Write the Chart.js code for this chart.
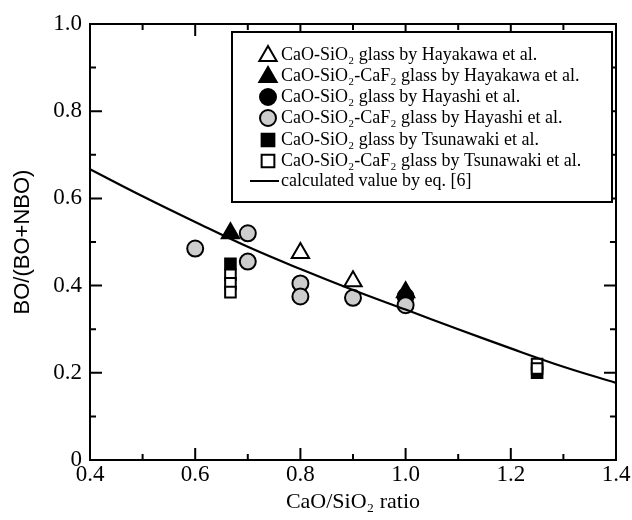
<!DOCTYPE html>
<html>
<head>
<meta charset="utf-8">
<script src="https://cdn.jsdelivr.net/npm/chart.js@4.4.0/dist/chart.umd.min.js"></script>
<style>
  html, body { margin: 0; padding: 0; background: #fff; }
  #wrap { width: 632px; height: 520px; }
</style>
</head>
<body>
<div id="wrap"><canvas id="boChart"></canvas></div>
<script>
// tick labels
const xTicks = [0.4, 0.6, 0.8, 1.0, 1.2, 1.4];
const yTicks = [0, 0.2, 0.4, 0.6, 0.8, 1.0];

// measured points
const hayakawaX = [0.8, 0.9];
const hayakawaY = [0.475, 0.41];
const hayakawaF2X = [0.667, 1.0];
const hayakawaF2Y = [0.52, 0.385];
const hayashiX = [1.0];
const hayashiY = [0.375];
const hayashiF2X = [0.6, 0.7, 0.7, 0.8, 0.8, 0.9, 1.0];
const hayashiF2Y = [0.485, 0.52, 0.455, 0.405, 0.375, 0.372, 0.355];
const tsunawakiX = [0.667, 1.25];
const tsunawakiY = [0.45, 0.2];
const tsunawakiF2X = [0.667, 0.667, 0.667, 1.25, 1.25];
const tsunawakiF2Y = [0.425, 0.405, 0.385, 0.22, 0.21];

// calculated curve, eq. [6]
const calcX = [0.4, 0.5, 0.6, 0.7, 0.8, 0.9, 1.0, 1.1, 1.2, 1.3, 1.4];
const calcY = [0.667, 0.605, 0.546, 0.489, 0.438, 0.39, 0.345, 0.3, 0.256, 0.214, 0.177];

const labels = [
  'CaO-SiO\u2082 glass by Hayakawa et al.',
  'CaO-SiO\u2082-CaF\u2082 glass by Hayakawa et al.',
  'CaO-SiO\u2082 glass by Hayashi et al.',
  'CaO-SiO\u2082-CaF\u2082 glass by Hayashi et al.',
  'CaO-SiO\u2082 glass by Tsunawaki et al.',
  'CaO-SiO\u2082-CaF\u2082 glass by Tsunawaki et al.',
  'calculated value by eq. [6]'
];

const zip = (xs, ys) => xs.map((x, i) => ({ x: x, y: ys[i] }));
const GRAY = '#cdcdcd';

function marker(ctx, style, fill, x, y, r) {
  ctx.save();
  ctx.fillStyle = fill;
  ctx.strokeStyle = '#000';
  ctx.lineWidth = 2;
  ctx.beginPath();
  if (style === 'circle') {
    ctx.arc(x, y, r, 0, Math.PI * 2);
  } else if (style === 'triangle') {
    ctx.moveTo(x, y - r);
    ctx.lineTo(x + r * 0.866, y + r * 0.5);
    ctx.lineTo(x - r * 0.866, y + r * 0.5);
    ctx.closePath();
  } else if (style === 'rect') {
    const s = r * Math.SQRT1_2;
    ctx.rect(x - s, y - s, 2 * s, 2 * s);
  }
  ctx.fill();
  ctx.stroke();
  ctx.restore();
}

const framePlugin = {
  id: 'frame',
  afterDraw(chart) {
    const ctx = chart.ctx;
    const a = chart.chartArea;
    const xs = chart.scales.x;
    const ys = chart.scales.y;
    ctx.save();
    ctx.strokeStyle = '#000';
    ctx.lineWidth = 2;
    ctx.strokeRect(a.left, a.top, a.right - a.left, a.bottom - a.top);
    // inside ticks on all four sides
    ctx.beginPath();
    for (let i = 0; i <= 10; i++) {
      const len = i % 2 === 0 ? 12 : 6;
      const px = xs.getPixelForValue(0.4 + i * 0.1);
      ctx.moveTo(px, a.bottom); ctx.lineTo(px, a.bottom - len);
      ctx.moveTo(px, a.top); ctx.lineTo(px, a.top + len);
      const py = ys.getPixelForValue(i * 0.1);
      ctx.moveTo(a.left, py); ctx.lineTo(a.left + len, py);
      ctx.moveTo(a.right, py); ctx.lineTo(a.right - len, py);
    }
    ctx.stroke();

    // legend box
    const bx = 232, by = 32, bw = 380, bh = 170;
    ctx.fillStyle = '#fff';
    ctx.fillRect(bx, by, bw, bh);
    ctx.strokeRect(bx, by, bw, bh);
    const rows = [55, 76, 97, 118, 140, 161, 181];
    ctx.font = '18px "Liberation Serif", "DejaVu Serif", serif';
    ctx.textBaseline = 'middle';
    ctx.fillStyle = '#000';
    chart.data.datasets.forEach((ds, i) => {
      const y = rows[i];
      if (ds.showLine) {
        ctx.beginPath();
        ctx.moveTo(250, y); ctx.lineTo(279, y);
        ctx.lineWidth = 2;
        ctx.stroke();
      } else {
        marker(ctx, ds.pointStyle, ds.backgroundColor, 268, y + (ds.pointStyle === 'triangle' ? 1 : 0), ds.pointStyle === 'rect' ? 9 : (ds.pointStyle === 'triangle' ? 10 : 8));
      }
      ctx.fillStyle = '#000';
      ctx.fillText(ds.label, 281, y);
    });
    ctx.restore();
  }
};

const pointSet = (label, xs, ys, style, fill, r, order) => ({
  type: 'scatter',
  label: label,
  data: zip(xs, ys),
  pointStyle: style,
  backgroundColor: fill,
  borderColor: '#000',
  borderWidth: 2,
  pointRadius: r,
  order: order
});

new Chart(document.getElementById('boChart'), {
  type: 'scatter',
  data: {
    datasets: [
      pointSet(labels[0], hayakawaX, hayakawaY, 'triangle', '#fff', 10, 5),
      pointSet(labels[1], hayakawaF2X, hayakawaF2Y, 'triangle', '#000', 10, 6),
      pointSet(labels[2], hayashiX, hayashiY, 'circle', '#000', 8, 4),
      pointSet(labels[3], hayashiF2X, hayashiF2Y, 'circle', GRAY, 8, 3),
      pointSet(labels[4], tsunawakiX, tsunawakiY, 'rect', '#000', 7.5, 2),
      pointSet(labels[5], tsunawakiF2X, tsunawakiF2Y, 'rect', '#fff', 7.5, 1),
      {
        type: 'scatter',
        label: labels[6],
        data: zip(calcX, calcY),
        showLine: true,
        tension: 0.4,
        borderColor: '#000',
        borderWidth: 2.2,
        pointRadius: 0,
        order: 0
      }
    ]
  },
  options: {
    responsive: true,
    maintainAspectRatio: false,
    animation: false,
    layout: { padding: { top: 24, right: 16, left: 0, bottom: 0 } },
    scales: {
      x: {
        type: 'linear',
        min: 0.4,
        max: 1.4,
        afterFit(scale) { scale.height = 60; },
        afterBuildTicks(scale) { scale.ticks = xTicks.map(v => ({ value: v })); },
        grid: { display: false, drawTicks: false },
        border: { display: false },
        ticks: {
          padding: 1,
          color: '#000',
          font: { family: '"Liberation Serif", serif', size: 23 },
          callback: v => v.toFixed(1)
        },
        title: {
          display: true,
          text: 'CaO/SiO\u2082 ratio',
          color: '#000',
          font: { family: '"Liberation Serif", serif', size: 22 },
          padding: { top: 0, bottom: 5 }
        }
      },
      y: {
        min: 0,
        max: 1.0,
        afterFit(scale) { scale.width = 90; },
        afterBuildTicks(scale) { scale.ticks = yTicks.map(v => ({ value: v })); },
        grid: { display: false, drawTicks: false },
        border: { display: false },
        ticks: {
          padding: 8,
          color: '#000',
          font: { family: '"Liberation Serif", serif', size: 23 },
          callback: v => (v === 0 ? '0' : v.toFixed(1))
        },
        title: {
          display: true,
          text: 'BO/(BO+NBO)',
          color: '#000',
          font: { family: '"Liberation Sans", sans-serif', size: 22 },
          padding: { top: 10, bottom: 0 }
        }
      }
    },
    plugins: {
      legend: { display: false },
      tooltip: { enabled: false }
    }
  },
  plugins: [framePlugin]
});
</script>
</body>
</html>
